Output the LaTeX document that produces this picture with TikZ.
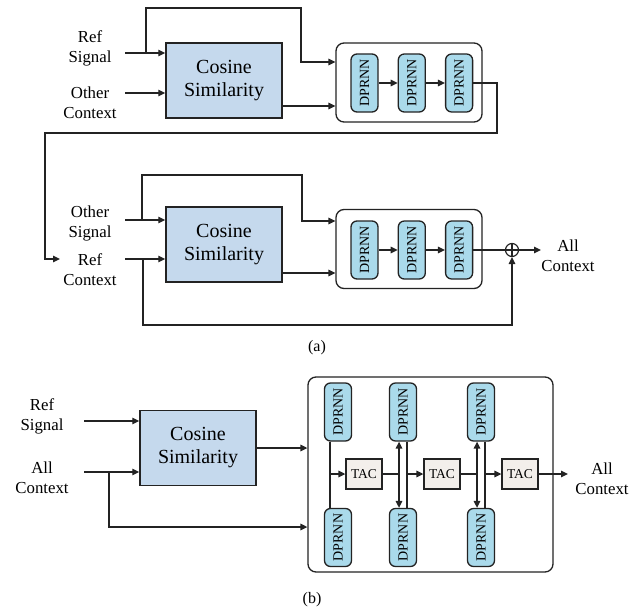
\documentclass[tikz,border=0pt]{standalone}
\usepackage{fontspec}
\setmainfont{Liberation Serif}
\usepackage{xcolor}
\definecolor{cosblue}{RGB}{197,217,237}
\definecolor{dpblue}{RGB}{170,218,235}
\definecolor{tacgray}{RGB}{243,239,235}
\definecolor{linegray}{RGB}{35,35,35}
\usetikzlibrary{arrows.meta, positioning}

\begin{document}
\begin{tikzpicture}[x=1pt, y=-1pt,
	cosbox/.style={rectangle, draw=linegray, line width=1.5pt, fill=cosblue, align=center,
	               minimum width=116pt, minimum height=75pt, font=\fontsize{20}{23}\selectfont},
	dpbox/.style={rectangle, draw=linegray, line width=1.3pt, fill=dpblue, rounded corners=6pt,
	              minimum width=27pt, minimum height=58pt, inner sep=0pt, font=\fontsize{14}{16}\selectfont},
	tacbox/.style={rectangle, draw=linegray, line width=1.3pt, fill=tacgray,
	               minimum width=36pt, minimum height=30pt, inner sep=0pt, font=\fontsize{13.5}{16}\selectfont},
	block/.style={rectangle, draw=linegray, line width=1.3pt, rounded corners=8pt},
	arr/.style={-{Triangle[length=7pt, width=6.5pt]}, draw=linegray, line width=1.4pt},
	dbl/.style={{Triangle[length=7pt, width=6.5pt]}-{Triangle[length=7pt, width=6.5pt]}, draw=linegray, line width=1.4pt},
	lin/.style={draw=linegray, line width=1.4pt},
	lbl/.style={align=center, inner sep=0pt, font=\fontsize{16.8}{20}\selectfont},
	sublbl/.style={inner sep=0pt, font=\fontsize{16}{19}\selectfont},
	sumnode/.style={circle, draw=linegray, line width=1.2pt, minimum size=13pt, inner sep=0pt,
	                path picture={\draw[linegray, line width=1.2pt]
	                  (path picture bounding box.north) -- (path picture bounding box.south)
	                  (path picture bounding box.west) -- (path picture bounding box.east);}}
	]
	\useasboundingbox (0,0) rectangle (643,610);

	% (a) first stage
	\node[lbl] (refsig) at (90,48) {Ref\\Signal};
	\node[lbl] (othctx) at (90,103) {Other\\Context};
	\node[cosbox] (cos1) at (224,80.5) {Cosine\\Similarity};
	\node[block, minimum width=146pt, minimum height=79pt] (blk1) at (409,82.5) {};
	\node[dpbox] (dp11) at (364.5,83) {\rotatebox{90}{DPRNN}};
	\node[dpbox, right=19pt of dp11] (dp12) {\rotatebox{90}{DPRNN}};
	\node[dpbox, right=19pt of dp12] (dp13) {\rotatebox{90}{DPRNN}};

	\coordinate (in11) at (125,53);
	\coordinate (in12) at (125,93);
	\draw[arr] (in11) -- (in11 -| cos1.west);
	\draw[arr] (in12) -- (in12 -| cos1.west);
	\coordinate (sk1) at (146,53);
	\coordinate (sk1e) at ([yshift=20.5pt]blk1.west);
	\draw[arr] (sk1) |- (301,8) |- (sk1e);
	\coordinate (out1) at ([yshift=-25.5pt]cos1.east);
	\draw[arr] (out1) -- (out1 -| blk1.west);
	\draw[arr] (dp11) -- (dp12);
	\draw[arr] (dp12) -- (dp13);

	% hand-over to the second stage
	\coordinate (rcin) at (60,259);
	\draw[arr] (dp13.east) -| (497,133) -| (45,259) -- (rcin);

	% (a) second stage
	\node[lbl] (othsig) at (90,223) {Other\\Signal};
	\node[lbl] (refctx) at (90,270) {Ref\\Context};
	\node[cosbox] (cos2) at (224,244.5) {Cosine\\Similarity};
	\node[block, minimum width=146pt, minimum height=79pt] (blk2) at (409,249) {};
	\node[dpbox] (dp21) at (364.5,250) {\rotatebox{90}{DPRNN}};
	\node[dpbox, right=19pt of dp21] (dp22) {\rotatebox{90}{DPRNN}};
	\node[dpbox, right=19pt of dp22] (dp23) {\rotatebox{90}{DPRNN}};

	\coordinate (in21) at (125,220);
	\coordinate (in22) at (125,259);
	\draw[arr] (in21) -- (in21 -| cos2.west);
	\draw[arr] (in22) -- (in22 -| cos2.west);
	\coordinate (sk2) at (142,220);
	\coordinate (sk2e) at ([yshift=28pt]blk2.west);
	\draw[arr] (sk2) |- (302,175) |- (sk2e);
	\coordinate (out2) at ([yshift=-28.5pt]cos2.east);
	\draw[arr] (out2) -- (out2 -| blk2.west);
	\draw[arr] (dp21) -- (dp22);
	\draw[arr] (dp22) -- (dp23);

	\node[sumnode] (sum) at (512,250) {};
	\draw[lin] (dp23.east) -- (sum.west);
	\coordinate (acout) at (541,250);
	\draw[arr] (sum.east) -- (acout);
	\node[lbl] (allctx1) at (568,256) {All\\Context};
	\coordinate (br2) at (143,259);
	\draw[arr] (br2) -- (143,325) -| (sum.south);

	\node[sublbl] (capa) at (317,348) {(a)};

	% (b)
	\node[lbl] (refsig2) at (42,416) {Ref\\Signal};
	\node[lbl] (allctx2) at (42,478) {All\\Context};
	\node[cosbox] (cos3) at (198,448) {Cosine\\Similarity};
	\node[block, minimum width=245pt, minimum height=195pt] (blk3) at (430.5,474.5) {};
	\foreach \i/\x in {1/338,2/403,3/481} {
		\node[dpbox] (top\i) at (\x,412) {\rotatebox{90}{DPRNN}};
		\node[dpbox] (bot\i) at (\x,537.5) {\rotatebox{90}{DPRNN}};
	}
	\foreach \i/\x in {1/364,2/442,3/520}
		\node[tacbox] (tac\i) at (\x,474) {TAC};

	\coordinate (in31) at (84,421);
	\coordinate (in32) at (84,472);
	\draw[arr] (in31) -- (in31 -| cos3.west);
	\draw[arr] (in32) -- (in32 -| cos3.west);
	\draw[arr] (cos3.east) -- (cos3.east -| blk3.west);
	\coordinate (br3) at (109,472);
	\draw[arr] (br3) |- ([yshift=-52.5pt]blk3.west);

	\path ([xshift=-8pt]top1.south) coordinate (v1);
	\draw[lin] (v1) -- (v1 |- bot1.north);
	\draw[arr] (v1 |- tac1.west) -- (tac1.west);
	\foreach \i/\p in {2/1,3/2} {
		\path ([xshift=-4pt]top\i.south) coordinate (dl\i)
		      ([xshift=4pt]top\i.south) coordinate (pl\i);
		\draw[dbl] (dl\i) -- (dl\i |- bot\i.north);
		\draw[lin] (pl\i) -- (pl\i |- bot\i.north);
		\draw[lin] (tac\p.east) -- (dl\i |- tac\p.east);
		\draw[arr] (pl\i |- tac\i.west) -- (tac\i.west);
	}
	\coordinate (acout2) at (568,474);
	\draw[arr] (tac3.east) -- (acout2);
	\node[lbl] (allctx3) at (602,479) {All\\Context};

	\node[sublbl] (capb) at (312,600) {(b)};
\end{tikzpicture}
\end{document}
